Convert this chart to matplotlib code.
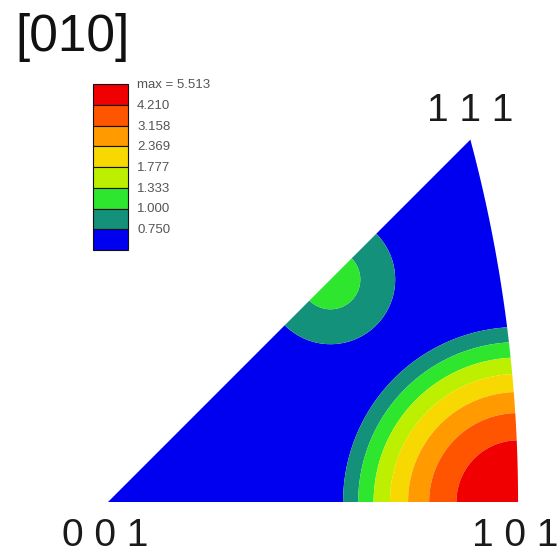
import matplotlib
matplotlib.use("Agg")
import matplotlib.pyplot as plt
import numpy as np
from matplotlib.path import Path
from matplotlib.patches import PathPatch, Rectangle

plt.rcParams["font.family"] = ["Liberation Sans", "DejaVu Sans"]

# ---------------------------------------------------------------------------
# Data
# ---------------------------------------------------------------------------
TITLE = "[010]"
CORNER_LABELS = ["0 0 1", "1 0 1", "1 1 1"]
CORNER_DIRS = [[0, 0, 1], [1, 0, 1], [1, 1, 1]]

# contour levels (multiples of random) and their fill colours, low -> high
LEVELS = [0.0, 0.750, 1.000, 1.333, 1.777, 2.369, 3.158, 4.210, 5.513]
LEVEL_LABELS = ["0.750", "1.000", "1.333", "1.777", "2.369", "3.158",
                "4.210", "max = 5.513"]
LEVEL_COLORS = ["#0000f0", "#14917a", "#2ee62e", "#bdf000", "#f7d800",
                "#ff9a00", "#ff5400", "#f00000"]

# texture components: pole, peak height above background, width
# (width measured in the stereographic plane, unit circle radius = 1)
BACKGROUND = 0.2
COMP_DIRS = [[1, 0, 1], [1, 1, 2]]
COMP_PEAK = [5.313, 0.885]
COMP_WIDTH = [0.083, 0.067]

# ---------------------------------------------------------------------------
# Layout (pixels)
# ---------------------------------------------------------------------------
W, H = 560, 554
X0, Y0, SCALE = 108, 502, 990          # 001 position and stereographic scale


def stereo(d):
    d = np.asarray(d, float)
    d = d / np.linalg.norm(d, axis=-1, keepdims=True)
    return d[..., 0] / (1 + d[..., 2]), d[..., 1] / (1 + d[..., 2])


def to_px(x, y):
    return X0 + SCALE * np.asarray(x), Y0 - SCALE * np.asarray(y)


fig = plt.figure(figsize=(W / 100, H / 100), dpi=100)
ax = fig.add_axes([0, 0, 1, 1])
ax.set_xlim(0, W)
ax.set_ylim(H, 0)
ax.axis("off")

# density on a stereographic grid (strongest component wins)
gx, gy = np.meshgrid(np.linspace(-0.01, 0.43, 500), np.linspace(-0.01, 0.38, 450))
comp = np.zeros(gx.shape)
for cd, pk, wd in zip(COMP_DIRS, COMP_PEAK, COMP_WIDTH):
    cx, cy = stereo(cd)
    d2 = (gx - cx) ** 2 + (gy - cy) ** 2
    comp = np.maximum(comp, pk * np.exp(-d2 / (2 * wd ** 2)))
dens = BACKGROUND + comp

px, py = to_px(gx, gy)
levels = LEVELS[:-1] + [dens.max() + 1]
cs = ax.contourf(px, py, dens, levels=levels, colors=LEVEL_COLORS,
                 antialiased=True)

# standard triangle boundary: 001 -> 101, arc 101 -> 111, 111 -> 001
t = np.linspace(0, 1, 80)
arc_x, arc_y = stereo(np.stack([np.ones_like(t), t, np.ones_like(t)], axis=-1))
bx = np.concatenate([[0.0], arc_x, [0.0]])
by = np.concatenate([[0.0], arc_y, [0.0]])
bpx, bpy = to_px(bx, by)
tri = PathPatch(Path(np.column_stack([bpx, bpy]), closed=True),
                transform=ax.transData, facecolor="none", edgecolor="none")
ax.add_patch(tri)
cs.set_clip_path(tri)

# corner labels
offsets = [(-3, 44), (-3, 44), (0, -19)]
for lbl, d, (dx, dy) in zip(CORNER_LABELS, CORNER_DIRS, offsets):
    sx, sy = stereo(d)
    cx, cy = to_px(sx, sy)
    ax.text(cx + dx, cy + dy, lbl, fontsize=28, ha="center",
            va="baseline", color="#1a1a1a")

# title
ax.text(15, 51, TITLE, fontsize=37, ha="left", va="baseline", color="#111")

# colour legend
lx, ltop, lw, lh = 93, 84, 35, 20.75
n = len(LEVEL_COLORS)
for i in range(n):
    k = n - 1 - i
    ax.add_patch(Rectangle((lx, ltop + i * lh), lw, lh,
                           facecolor=LEVEL_COLORS[k], edgecolor="#111",
                           linewidth=0.8))
    ax.text(lx + 44, ltop + i * lh + 1, LEVEL_LABELS[k], fontsize=9.5,
            ha="left", va="center", color="#555")

fig.savefig("out.png", dpi=100)
